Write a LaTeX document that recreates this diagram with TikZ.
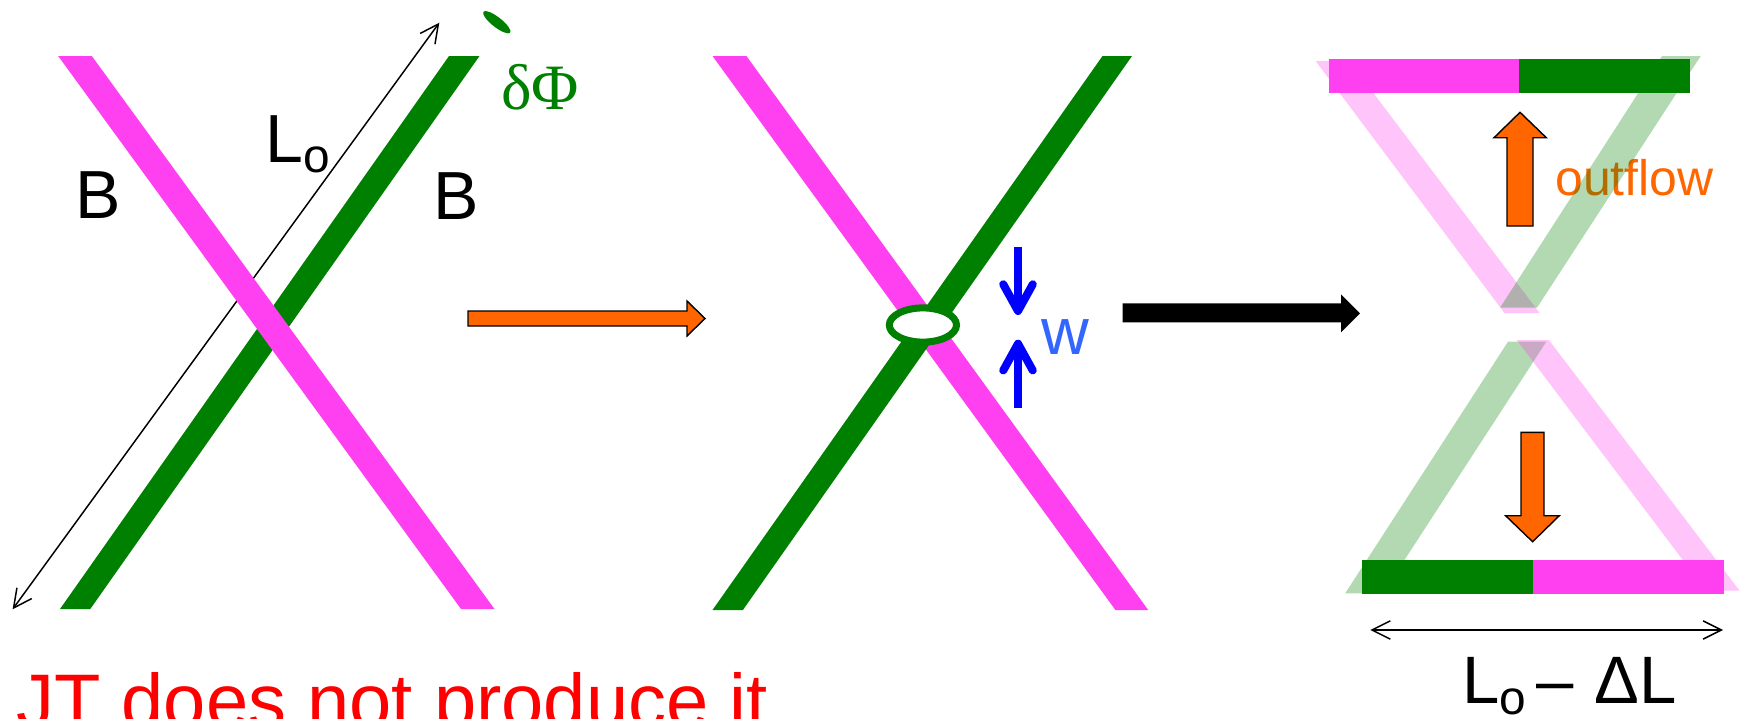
\documentclass[tikz,border=0pt]{standalone}
\usepackage{fontspec}
\setmainfont{Liberation Sans}
\newfontfamily\greekserif{Liberation Serif}
\usetikzlibrary{arrows.meta}

\newcommand{\Lsub}{L\raisebox{-7.8pt}{\fontsize{34pt}{34pt}\selectfont o}}

\begin{document}
\begin{tikzpicture}[x=0.025cm, y=-0.025cm,
  lbl/.style={inner sep=0pt, anchor=base west},
  big/.style={font=\fontsize{48.4pt}{52pt}\selectfont},
  dimline/.style={{Straight Barb[length=13pt,width=13pt]}-{Straight Barb[length=13pt,width=13pt]}, line width=1.05pt},
  blockarr/.style={fill=zOrange, draw=black, line width=1pt, line join=miter},
  squeeze/.style={-{Straight Barb[length=19pt,width=21pt,round]}, line width=5.7pt, draw=zBlue},
  faded/.style={opacity=0.3},
]
\definecolor{zMag}{HTML}{FF40F0}\definecolor{zGreen}{HTML}{008000}
\definecolor{zOrange}{HTML}{FF6600}\definecolor{zBlue}{HTML}{0000FF}
\definecolor{wBlue}{HTML}{3366FF}
\clip (0,0) rectangle (1741,718);
\useasboundingbox (0,0) rectangle (1741,718);
% ---- panel 1: crossing tubes ----
\coordinate (Ltop) at (439.3,22.7);
\coordinate (Lbot) at (12.6,609.3);
\draw[dimline] (Lbot) -- (Ltop);
\fill[zGreen] (449,56) -- (479.5,56) -- (90.3,609) -- (60,609) -- cycle;
\fill[zMag] (58.2,56) -- (91.8,56) -- (494.5,609) -- (461,609) -- cycle;
\fill[zGreen, rotate around={-38:(496.8,22.2)}] (496.8,22.2) ellipse [x radius=17, y radius=5];
\node[lbl, text=zGreen, font=\greekserif\fontsize{46pt}{50pt}\selectfont] (dphi) at (501,109) {δΦ};
\node[lbl, big] (Lo) at (265,162) {\Lsub};
\node[lbl, big] (Bl) at (75,218) {B};
\node[lbl, big] (Br) at (433,219) {B};
\node[lbl, text=red, font=\fontsize{54pt}{60pt}\selectfont] (JT) at (16,727.7) {JT does not produce it};
% ---- step arrow ----
\filldraw[blockarr] (468,311) -- (687,311) -- (687,301) -- (705,318.5) -- (687,336) -- (687,326) -- (468,326) -- cycle;
% ---- panel 2: reconnection ----
\fill[zMag] (712.5,56) -- (746.4,56) -- (1148.2,610) -- (1115.4,610) -- cycle;
\fill[zGreen] (1102.5,56) -- (1132,56) -- (742.9,610) -- (712.5,610) -- cycle;
\draw[zGreen, line width=5pt, fill=white] (922.9,325) ellipse [x radius=33.6, y radius=17.1];
\coordinate (wA) at (1018,247.3);
\coordinate (wAtip) at (1018,315);
\coordinate (wB) at (1018,407.5);
\coordinate (wBtip) at (1018,339.7);
\draw[squeeze] (wA) -- (wAtip);
\draw[squeeze] (wB) -- (wBtip);
\node[lbl, text=wBlue, font=\fontsize{47pt}{50pt}\selectfont] (w) at (1041,354.9) {w};
% ---- step arrow ----
\fill[black] (1122.5,303.3) -- (1341,303.3) -- (1341,294.3) -- (1360,313.3) -- (1341,332.3) -- (1341,322.3) -- (1122.5,322.3) -- cycle;
% ---- panel 3: outflow ----
\node[lbl, text=zOrange, font=\fontsize{35.5pt}{40pt}\selectfont] (outflow) at (1555,195) {outflow};
\fill[zMag, faded] (1315.6,61) -- (1349.2,61) -- (1539.6,313) -- (1504.4,313) -- cycle;
\fill[zGreen, faded] (1662,56) -- (1700.7,56) -- (1537,307.7) -- (1500,307.7) -- cycle;
\fill[zGreen, faded] (1508,341.7) -- (1546.3,341.7) -- (1382.8,593.3) -- (1345.2,593.3) -- cycle;
\fill[zMag, faded] (1516.7,340) -- (1548.9,340) -- (1739.6,590.7) -- (1706,590.7) -- cycle;
\fill[zMag] (1329,59) rectangle (1519,92.7);
\fill[zGreen] (1519,59) rectangle (1690,92.7);
\fill[zGreen] (1362,560) rectangle (1533.3,594);
\fill[zMag] (1533.3,560) rectangle (1723.7,594);
\filldraw[blockarr] (1507,226) -- (1507,137.7) -- (1494,137.7) -- (1520,112.3) -- (1546.3,137.7) -- (1533,137.7) -- (1533,226) -- cycle;
\filldraw[blockarr] (1521,432.3) -- (1521,515.7) -- (1505.6,515.7) -- (1532.6,541.7) -- (1559.3,515.7) -- (1544,515.7) -- (1544,432.3) -- cycle;
\coordinate (DLl) at (1370.4,630);
\coordinate (DLr) at (1723,630);
\draw[dimline] (DLl) -- (DLr);
\node[lbl, font=\fontsize{47.7pt}{50pt}\selectfont] (LoDL) at (1462,703.3) {\Lsub\kern7pt–\kern15pt ΔL};
\end{tikzpicture}
\end{document}
